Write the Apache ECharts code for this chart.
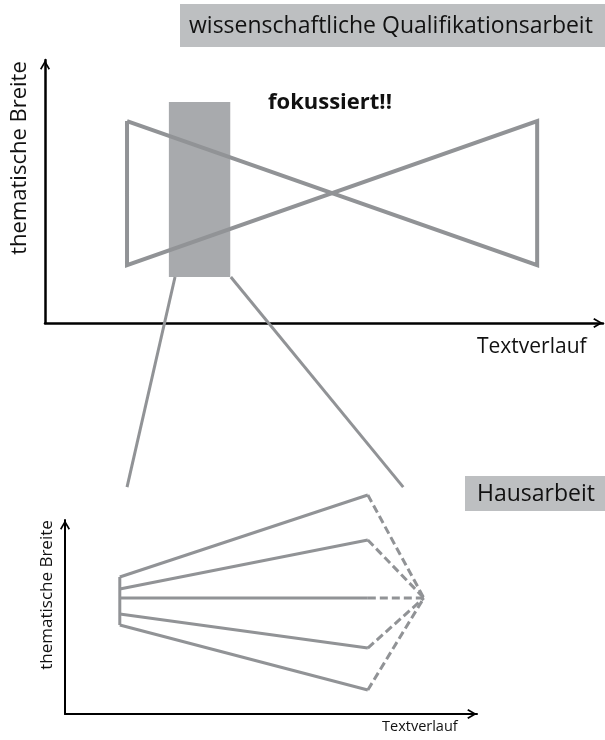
<!DOCTYPE html>
<html>
<head>
<meta charset="utf-8">
<script src="https://cdn.jsdelivr.net/npm/echarts@6/dist/echarts.min.js"></script>
<style>
  html, body { margin: 0; padding: 0; background: #fff; }
  #chart { width: 605px; height: 740px; }
</style>
</head>
<body>
<div id="chart"></div>
<script>
// top diagram (wissenschaftliche Qualifikationsarbeit), units 0..100 on both axes
const bowtieX = [14.7, 14.7, 88.2, 88.2, 14.7]
const bowtieY = [76.8, 22.0, 76.8, 22.0, 76.8]
const focusX = [22.2, 33.2]
const focusY = [17.5, 84.0]
// zoom lines from the focus box down to the lower diagram
const zoomLeftX = [23.3, 14.7]
const zoomLeftY = [17.5, -62.4]
const zoomRightX = [33.3, 64.2]
const zoomRightY = [17.5, -62.4]

// bottom diagram (Hausarbeit)
const fanStartX = 13.3
const fanStartY = [70.6, 64.4, 59.8, 51.5, 45.9]
const fanEndX = 73.5
const fanEndY = [112.9, 89.7, 59.8, 34.0, 12.4]
const apex = [87.1, 59.8]

const gray = '#919396'
const boxGray = '#bdbfc1'
const font = 'Open Sans'

const chart = echarts.init(document.getElementById('chart'))

const chevron = 'path://M5,0 L10,8.5 L8.6,9.5 L5,3.2 L1.4,9.5 L0,8.5 Z'

function axis(gridIndex, width) {
  return {
    type: 'value',
    gridIndex: gridIndex,
    min: 0,
    max: 100,
    splitLine: { show: false },
    axisTick: { show: false },
    axisLabel: { show: false },
    axisLine: {
      onZero: false,
      symbol: ['none', chevron],
      symbolSize: [10, 10],
      symbolOffset: [0, -5],
      lineStyle: { color: '#000', width: width }
    }
  }
}

function seg(xs, ys) {
  return xs.map((x, i) => [x, ys[i]])
}

function label(text, x, y, size, extra) {
  return Object.assign({
    type: 'text', x: x, y: y,
    style: { text: text, font: size + 'px ' + font, fill: '#111', verticalAlign: 'middle' }
  }, extra || {})
}

const series = []

// focus box
series.push({
  type: 'line',
  xAxisIndex: 0,
  yAxisIndex: 0,
  data: [],
  z: 1,
  markArea: {
    silent: true,
    itemStyle: { color: '#a8aaad', opacity: 1 },
    data: [[{ coord: [focusX[0], focusY[1]] }, { coord: [focusX[1], focusY[0]] }]]
  }
})

series.push({
  type: 'line',
  xAxisIndex: 0,
  yAxisIndex: 0,
  data: seg(bowtieX, bowtieY),
  symbol: 'none',
  z: 3,
  lineStyle: { color: gray, width: 4, join: 'miter' }
})

;[[zoomLeftX, zoomLeftY], [zoomRightX, zoomRightY]].forEach(([xs, ys]) => {
  series.push({
    type: 'line',
    xAxisIndex: 0,
    yAxisIndex: 0,
    clip: false,
    data: seg(xs, ys),
    symbol: 'none',
    z: 2,
    lineStyle: { color: gray, width: 3 }
  })
})

// left edge of the fan
series.push({
  type: 'line',
  xAxisIndex: 1,
  yAxisIndex: 1,
  data: [[fanStartX, fanStartY[0]], [fanStartX, fanStartY[4]]],
  symbol: 'none',
  lineStyle: { color: gray, width: 3 }
})

fanStartY.forEach((y0, i) => {
  series.push({
    type: 'line',
    xAxisIndex: 1,
    yAxisIndex: 1,
    clip: false,
    data: [[fanStartX, y0], [fanEndX, fanEndY[i]]],
    symbol: 'none',
    lineStyle: { color: gray, width: 3 }
  })
  series.push({
    type: 'line',
    xAxisIndex: 1,
    yAxisIndex: 1,
    clip: false,
    data: [[fanEndX, fanEndY[i]], apex],
    symbol: 'none',
    lineStyle: { color: gray, width: 3, type: [8, 4] }
  })
})

const option = {
  animation: false,
  grid: [
    { left: 45, top: 60, width: 558, height: 263 },
    { left: 65, top: 520, width: 412, height: 194 }
  ],
  xAxis: [axis(0, 2.5), axis(1, 2)],
  yAxis: [axis(0, 2.5), axis(1, 2)],
  series: series,
  graphic: [
    { type: 'rect', left: 180, top: 4, shape: { width: 425, height: 43 }, style: { fill: boxGray }, z: 0 },
    label('wissenschaftliche Qualifikationsarbeit', 189, 26, 23),
    { type: 'text', x: 268, y: 103, style: { text: 'fokussiert!!', font: 'bold 22px ' + font, fill: '#111', verticalAlign: 'middle' } },
    label('Textverlauf', 477, 347, 21),
    label('thematische Breite', 20, 158, 22, { rotation: Math.PI / 2, style: { text: 'thematische Breite', font: '22px ' + font, fill: '#111', align: 'center', verticalAlign: 'middle' } }),
    { type: 'rect', left: 465, top: 476, shape: { width: 140, height: 35 }, style: { fill: boxGray }, z: 0 },
    label('Hausarbeit', 477, 494, 23),
    label('Textverlauf', 382, 727, 14.5),
    label('thematische Breite', 47, 595, 17, { rotation: Math.PI / 2, style: { text: 'thematische Breite', font: '17px ' + font, fill: '#111', align: 'center', verticalAlign: 'middle' } })
  ]
}

chart.setOption(option)
</script>
</body>
</html>
